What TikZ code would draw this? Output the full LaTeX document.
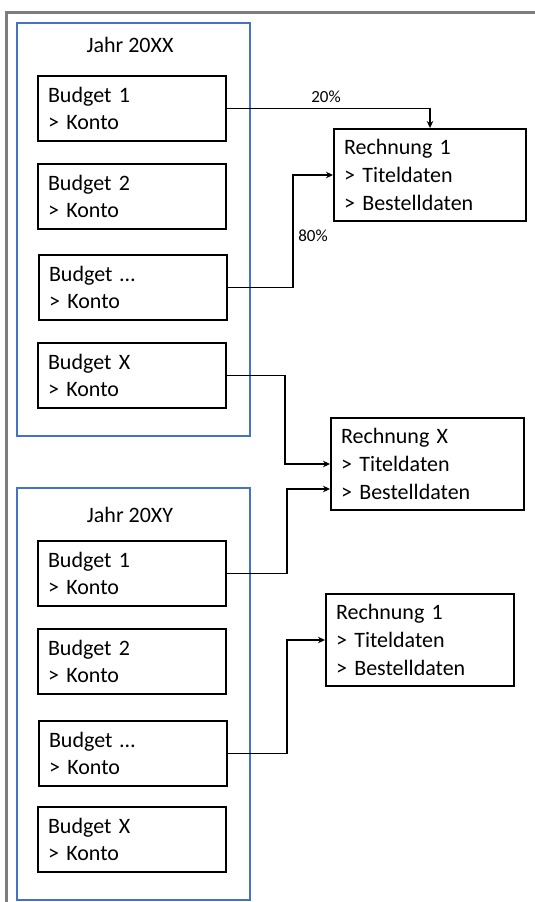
\documentclass[tikz,border=0pt]{standalone}
\usepackage{fontspec}
\setmainfont{Carlito}
\usetikzlibrary{arrows.meta}
\definecolor{ofblue}{RGB}{68,114,196}
\definecolor{framegray}{RGB}{125,125,125}
\begin{document}
\begin{tikzpicture}[x=1pt,y=-1pt,
  bbox/.style={draw=black, line width=2pt, anchor=north west, align=left,
    inner xsep=10pt, inner ysep=0pt, font=\fontsize{22}{27}\selectfont,
    minimum height=65pt, text width=168pt},
  rbox/.style={draw=black, line width=2pt, anchor=north west, align=left,
    inner xsep=10pt, inner ysep=0pt, font=\fontsize{22}{28}\selectfont,
    minimum height=92pt},
  group/.style={draw=ofblue, line width=1.5pt, anchor=north west, inner sep=0pt,
    minimum width=233pt},
  yearlbl/.style={font=\fontsize{22}{27}\selectfont, inner sep=0pt},
  pct/.style={font=\fontsize{17}{20}\selectfont, inner sep=0pt},
  conn/.style={line width=1.8pt, -{Stealth[length=7pt,width=6.5pt]}}
]
\useasboundingbox (0,0) rectangle (535,902);
% outer gray frame (only top and left visible)
\draw[framegray, line width=3.5pt] (6.5,930) -- (6.5,12.5) -- (560,12.5);

% groups
\node[group, minimum height=413pt] (g1) at (16,22) {};
\node[group, minimum height=412pt] (g2) at (16,487) {};
\node[yearlbl] (j1) at (130,45) {Jahr 20XX};
\node[yearlbl] (j2) at (130,515) {Jahr 20XY};

% budgets year 1
\node[bbox] (a1) at (37,75) {Budget 1\\> Konto};
\node[bbox] (a2) at (37,163) {Budget 2\\> Konto};
\node[bbox] (a3) at (38,254) {Budget \dots\\> Konto};
\node[bbox] (a4) at (37,342) {Budget X\\> Konto};

% budgets year 2
\node[bbox] (b1) at (37,540) {Budget 1\\> Konto};
\node[bbox] (b2) at (37,628) {Budget 2\\> Konto};
\node[bbox] (b3) at (38,720) {Budget \dots\\> Konto};
\node[bbox] (b4) at (37,806) {Budget X\\> Konto};

% invoices
\node[rbox, text width=172pt] (r1) at (333,128) {Rechnung 1\\> Titeldaten\\> Bestelldaten};
\node[rbox, text width=173pt] (rx) at (330,417) {Rechnung X\\> Titeldaten\\> Bestelldaten};
\node[rbox, text width=168pt] (r2) at (325,593) {Rechnung 1\\> Titeldaten\\> Bestelldaten};

% bend coordinates
\coordinate (k1) at (293,0);
\coordinate (k2) at (285,0);
\coordinate (k3) at (287,0);
\coordinate (rxin) at (330,489);

% connectors
\draw[conn] (a1.east) -| (r1.north);
\draw[conn] (a3.east) -- (a3.east -| k1) |- (r1.west);
\draw[conn] (a4.east) -- (a4.east -| k2) |- (rx.west);
\draw[conn] (b1.east) -- (b1.east -| k3) |- (rxin);
\draw[conn] (b3.east) -- (b3.east -| k3) |- (r2.west);

% labels
\node[pct] (p20) at (326,97) {20\%};
\node[pct] (p80) at (313,236) {80\%};
\end{tikzpicture}
\end{document}
